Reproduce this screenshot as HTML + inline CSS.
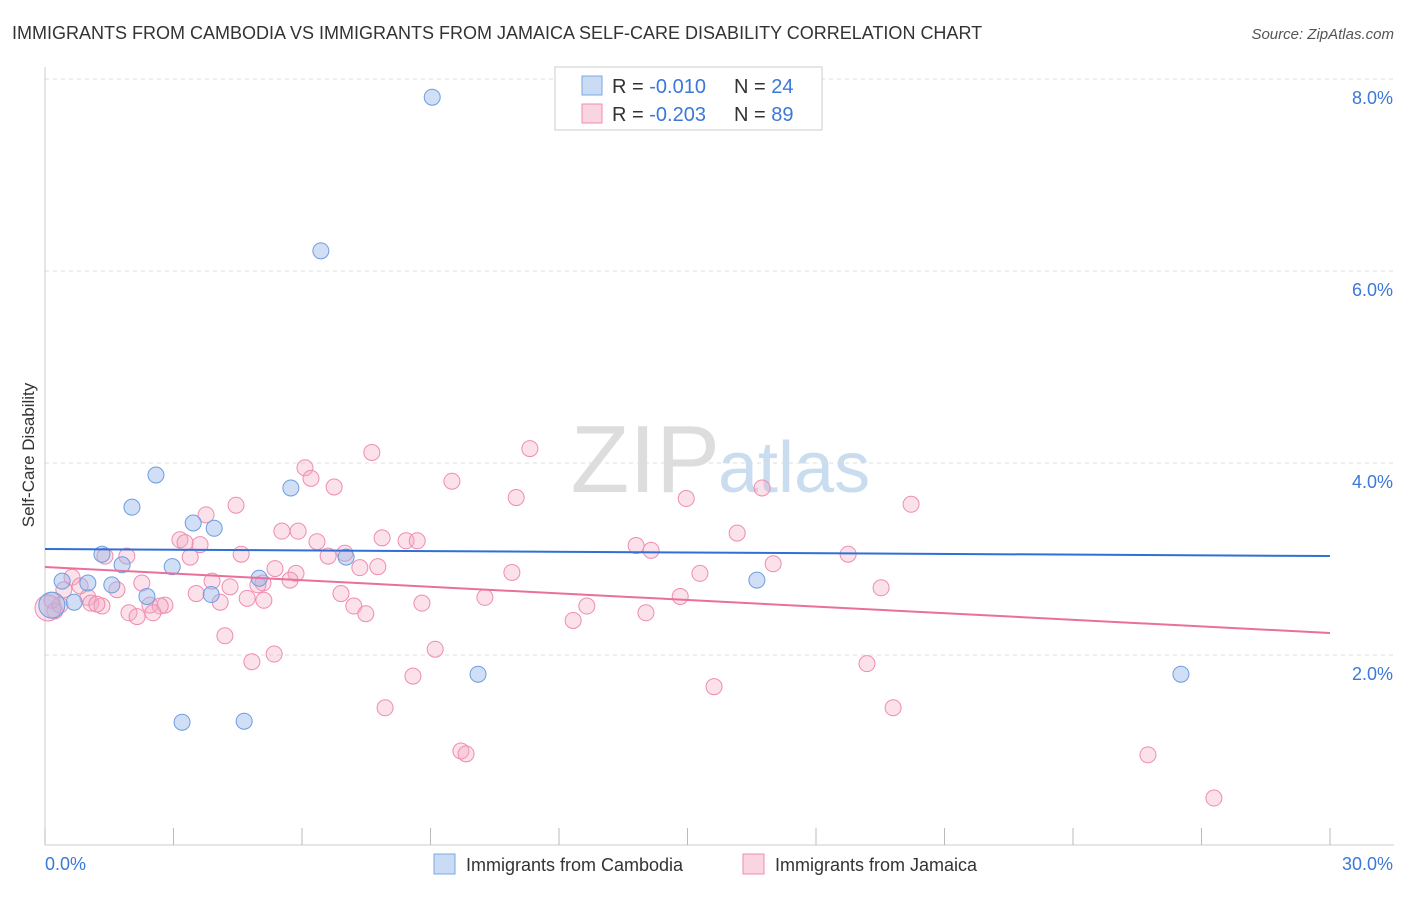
<!DOCTYPE html>
<html><head><meta charset="utf-8"><style>
body{margin:0;background:#fff;font-family:"Liberation Sans",sans-serif;}
svg text{font-family:"Liberation Sans",sans-serif;}
</style></head><body>
<svg id="chart" width="1406" height="892" viewBox="0 0 1406 892">
<text x="12" y="39" font-size="18" fill="#333">IMMIGRANTS FROM CAMBODIA VS IMMIGRANTS FROM JAMAICA SELF-CARE DISABILITY CORRELATION CHART</text>
<text x="1394" y="39" font-size="15" fill="#555" font-style="italic" text-anchor="end">Source: ZipAtlas.com</text>
<text x="720" y="492" font-size="96" fill="#ddd" text-anchor="end" font-family="Liberation Serif">ZIP</text>
<text x="718" y="492" font-size="72" fill="#c9dcf0">atlas</text>
<g id="grid"></g>
<g id="axes"></g>
<text transform="translate(34,455) rotate(-90)" font-size="17" fill="#333" text-anchor="middle">Self-Care Disability</text>
<g id="marks"></g>
<g id="legend">
<rect x="555" y="67" width="267" height="63" fill="#fff" stroke="#ccc"/>
<rect x="582" y="76" width="20" height="19" fill="rgba(150,185,235,0.5)" stroke="#7ba7e0"/>
<rect x="582" y="104" width="20" height="19" fill="rgba(244,170,195,0.5)" stroke="#f08cb0"/>
<text x="612" y="93" font-size="20" fill="#333">R = <tspan fill="#3b78d8">-0.010</tspan></text>
<text x="734" y="93" font-size="20" fill="#333">N = <tspan fill="#3b78d8">24</tspan></text>
<text x="612" y="121" font-size="20" fill="#333">R = <tspan fill="#3b78d8">-0.203</tspan></text>
<text x="734" y="121" font-size="20" fill="#333">N = <tspan fill="#3b78d8">89</tspan></text>
</g>
<g>
<rect x="434" y="854" width="21" height="20" fill="rgba(150,185,235,0.5)" stroke="#7ba7e0"/>
<text x="466" y="871" font-size="18" fill="#333">Immigrants from Cambodia</text>
<rect x="743" y="854" width="21" height="20" fill="rgba(244,170,195,0.5)" stroke="#f08cb0"/>
<text x="775" y="871" font-size="18" fill="#333">Immigrants from Jamaica</text>
</g>
</svg>
<script>
const yTicks=[2,4,6,8];
const yTickLabels=["2.0%","4.0%","6.0%","8.0%"];
const xTickLabels=["0.0%","30.0%"];
const camX=[9.04,6.44,2.59,2.03,5.74,3.46,3.95,1.33,1.80,2.97,7.03,0.40,1.00,1.56,5.0,16.62,3.88,2.38,0.68,0.16,10.11,26.52,3.2,4.65];
const camY=[7.81,6.21,3.875,3.54,3.74,3.375,3.32,3.05,2.94,2.92,3.02,2.77,2.75,2.73,2.80,2.78,2.63,2.61,2.55,2.52,1.80,1.80,1.30,1.31];
const jamX=[11.32,7.63,6.07,6.21,9.50,6.75,11.00,14.97,16.74,20.22,4.46,3.76,5.91,16.16,5.53,3.15,3.62,3.27,6.35,7.87,8.43,8.69,13.80,14.15,18.75,1.91,4.58,1.40,3.39,7.00,6.61,7.77,7.35,10.90,15.29,17.00,5.37,5.86,5.72,5.09,3.90,2.26,0.63,0.82,0.44,1.68,4.32,1.00,4.97,6.91,3.53,4.72,5.11,4.09,14.83,19.52,1.07,1.33,1.21,2.80,2.45,2.69,8.80,10.27,12.65,7.21,1.96,2.15,2.52,7.49,12.33,14.03,4.20,9.11,5.35,4.83,19.19,8.59,15.62,7.94,19.80,9.71,9.83,25.75,27.29,0.16,0.23,0.35,0.07];
const jamY=[4.15,4.11,3.95,3.84,3.81,3.75,3.64,3.63,3.74,3.57,3.56,3.46,3.29,3.27,3.29,3.20,3.15,3.17,3.18,3.22,3.19,3.19,3.14,3.09,3.05,3.03,3.05,3.03,3.02,3.06,3.03,2.92,2.91,2.86,2.85,2.95,2.90,2.85,2.78,2.75,2.77,2.75,2.81,2.72,2.68,2.68,2.71,2.60,2.73,2.64,2.64,2.59,2.57,2.55,2.61,2.70,2.54,2.51,2.53,2.52,2.52,2.51,2.54,2.60,2.51,2.51,2.44,2.40,2.44,2.43,2.36,2.44,2.20,2.06,2.01,1.93,1.91,1.78,1.67,1.45,1.45,1.00,0.97,0.96,0.51,2.57,2.46,2.52,2.49];
const camTrend=[3.104,3.031];
const jamTrend=[2.917,2.229];
const xs=v=>45+v/30*1285;
const ys=v=>847-v*96;
const NS="http://www.w3.org/2000/svg";
function mk(tag,attrs,parent){const e=document.createElementNS(NS,tag);for(const k in attrs)e.setAttribute(k,attrs[k]);parent.appendChild(e);return e;}
const grid=document.getElementById('grid'),axes=document.getElementById('axes'),marks=document.getElementById('marks');
yTicks.forEach((t,i)=>{
 const l=mk('line',{x1:45,x2:1394,y1:ys(t),y2:ys(t),stroke:'#ddd','stroke-dasharray':'4,4'},grid);
 
 
 const tx=mk('text',{x:1393,y:ys(t)+25,'font-size':18,fill:'#3b78d8','text-anchor':'end'},axes);
 tx.textContent=yTickLabels[i];
 
 
});
const ax=mk('line',{x1:45,x2:1394,y1:845,y2:845,stroke:'#ccc'},axes);


const ay=mk('line',{x1:45,x2:45,y1:67,y2:845,stroke:'#ccc'},axes);


for(let i=0;i<=10;i++){
 const t=mk('line',{x1:xs(i*3),x2:xs(i*3),y1:828,y2:845,stroke:'#bbb'},axes);
 
 
}
[[0,45,'start'],[30,1393,'end']].forEach((d,i)=>{
 const tx=mk('text',{x:d[1],y:870,'font-size':18,fill:'#3b78d8','text-anchor':d[2]},axes);
 tx.textContent=xTickLabels[i];
 
 
});
jamX.forEach((x,i)=>{
 const big=i===jamX.length-1;
 const c=mk('circle',{cx:xs(x),cy:ys(jamY[i]),r:big?13:8,fill:'rgba(244,170,195,0.35)',stroke:'#f08cb0','stroke-width':1},marks);
 
 
});
camX.forEach((x,i)=>{
 const big=i===19;
 const c=mk('circle',{cx:xs(x),cy:ys(camY[i]),r:big?13:8,fill:'rgba(150,185,235,0.45)',stroke:'#6d9de0','stroke-width':1},marks);
 
 
});
const l1=mk('line',{x1:xs(0),x2:xs(30),y1:ys(camTrend[0]),y2:ys(camTrend[1]),stroke:'#2f6fd6','stroke-width':2},marks);


const l2=mk('line',{x1:xs(0),x2:xs(30),y1:ys(jamTrend[0]),y2:ys(jamTrend[1]),stroke:'#e8709b','stroke-width':2},marks);


</script>
</body></html>
